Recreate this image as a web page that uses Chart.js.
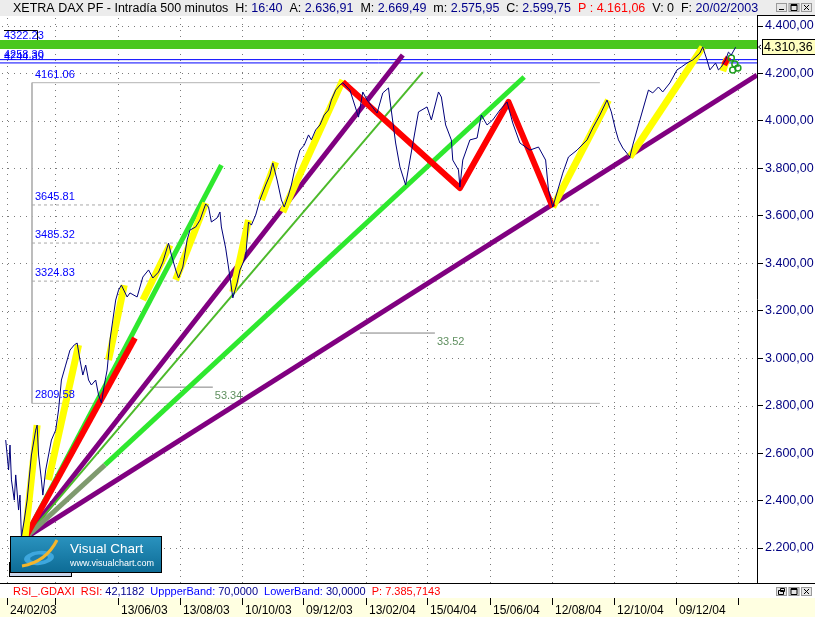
<!DOCTYPE html>
<html>
<head>
<meta charset="utf-8">
<script src="https://cdn.jsdelivr.net/npm/chart.js@4.4.0/dist/chart.umd.min.js"></script>
<style>
  html, body { margin: 0; padding: 0; background: #fff; }
  #wrap { width: 815px; height: 617px; position: relative; overflow: hidden; }
</style>
</head>
<body>
<div id="wrap"><canvas id="dax" width="815" height="617"></canvas></div>
<script>
// XETRA DAX, 500 minute bars. x = bar number, y = close

const barIdx = [4,5,6,7,8,10,11,13,14,15,17,19,21,22,25,26,27,29,30,32,34,36,39,41,43,46,49,52,54,56,
  58,60,62,64,67,69,71,73,75,77,79,81,83,85,89,91,96,100,104,107,111,114,118,120,123,125,128,131,133,137,
  140,144,146,148,152,154,155,158,161,163,166,168,172,174,176,179,182,186,189,191,194,197,199,202,204,207,210,213,216,218,
  221,224,227,230,232,235,238,240,245,251,254,257,264,268,272,273,277,280,284,287,293,299,302,307,309,312,316,317,321,322,
  324,329,334,337,341,345,350,355,359,364,371,377,382,384,387,394,398,404,411,415,420,425,428,431,433,436,441,443,446,449,
  452,454,457,461,464,469,474,477,481,485,490,492,495,497,501,503,505,508,510,512,515];
const closeVal = [2655,2592,2529,2634,2487,2402,2508,2360,2423,2246,2318,2402,2529,2592,2697,2718,2592,2487,2423,2529,
  2592,2655,2697,2782,2908,2971,3034,3056,3064,2992,2929,2971,2908,2887,2908,2845,2811,2887,2950,3077,
  3161,3245,3287,3308,3258,3275,3258,3342,3372,3338,3363,3405,3485,3435,3372,3338,3384,3498,3540,3553,
  3582,3650,3637,3574,3591,3616,3553,3464,3342,3254,3317,3372,3426,3574,3561,3603,3667,3730,3772,3823,
  3751,3667,3637,3688,3730,3814,3877,3898,3941,3920,3962,3983,4025,4046,4088,4130,4151,4161,4130,4016,
  4122,4088,4033,4118,4139,4088,3907,3806,3730,3835,4038,4059,4004,4122,4101,3983,3920,3835,3793,3721,
  3835,3920,3928,4025,3983,4004,4046,4080,3991,3907,3877,3890,3835,3709,3637,3780,3848,3877,3920,3970,
  4025,4088,4038,3962,3920,3886,3848,3898,3962,4025,4088,4130,4118,4143,4122,4160,4215,4227,4244,4257,
  4286,4311,4257,4215,4244,4215,4227,4257,4290,4278,4310.36];

const dateTicks = [4.9, 38.5, 82.6, 126, 169.4, 212.1, 256.2, 298.9, 343, 386.4, 429.8, 473.2, 516.6];
const dateLabels = ['24/02/03', '', '13/06/03', '13/08/03', '10/10/03', '09/12/03', '13/02/04',
  '15/04/04', '15/06/04', '12/08/04', '12/10/04', '09/12/04', ''];
const priceTicks = [2200, 2400, 2600, 2800, 3000, 3200, 3400, 3600, 3800, 4000, 4200, 4400];

// drawn trend lines, [bar, price]
const yellowLegs = [
  [[17.5, 2242], [26, 2718]], [[34, 2487], [55, 3056]], [[76, 2992], [87, 3308]],
  [[100, 3245], [119, 3477]], [[123, 3330], [144, 3654]], [[163, 3279], [174, 3582]],
  [[183, 3667], [193, 3827]], [[198, 3616], [240, 4172]], [[387, 3637], [426, 4088]],
  [[441, 3848], [492, 4311]], [[506, 4210], [509, 4262]]];
const redLegs = [
  [[17.5, 2242], [94.5, 3085]],
  [[240, 4164], [322, 3717], [356, 4080], [387, 3637]],
  [[507, 4236], [510, 4269]]];
const greenFan = [[[17.5, 2242], [155, 3814]], [[73.5, 2550], [367, 4185]]];
const greyFan = [[[17.5, 2242], [73.5, 2550]]];
const thinGreenFan = [[[17.5, 2242], [296, 4206]]];
const purpleFan = [[[17.5, 2242], [282, 4278]], [[17.5, 2242], [530, 4193]]];
const greenMarks = [[512, 4265], [514.5, 4240], [513, 4215], [516.6, 4223]];

// horizontal levels
const bandLevel = 4322.23;
const blueLevels = [4258.30, 4244.39];
const fibLevels = [4161.06, 3645.81, 3485.32, 3324.83, 2809.58];
const fibFrom = 22.4, fibTo = 420;
const angleMarks = [[105, 149, 2878, '53.34'], [252, 304.5, 3106, '33.52']];

const titleParts = [
  ['XETRA DAX PF - Intradía 500 minutos  H: ', '#000'], ['16:40', '#00008b'],
  ['  A: ', '#000'], ['2.636,91', '#00008b'], ['  M: ', '#000'], ['2.669,49', '#00008b'],
  ['  m: ', '#000'], ['2.575,95', '#00008b'], ['  C: ', '#000'], ['2.599,75', '#00008b'],
  ['  ', '#000'], ['P : 4.161,06', '#ff0000'], ['  V: 0  F: ', '#000'], ['20/02/2003', '#00008b']];
const rsiParts = [
  ['RSI_.GDAXI  RSI: ', '#ff0000'], ['42,1182 ', '#00008b'], [' UppperBand: ', '#0000ff'],
  ['70,0000 ', '#00008b'], [' LowerBand: ', '#0000ff'], ['30,0000 ', '#00008b'],
  [' P: 7.385,7143', '#ff0000']];

const FONT = '"Liberation Sans", Arial, sans-serif';
Chart.defaults.font.family = FONT;

function pts(arr) { return arr.map(p => ({ x: p[0], y: p[1] })); }
function leg(arr, color, width, extra) {
  return Object.assign({ data: pts(arr), borderColor: color, borderWidth: width, pointRadius: 0,
    fill: false, tension: 0 }, extra || {});
}
function fmtPrice(v) {
  const s = Math.round(v).toString().replace(/\B(?=(\d{3})+(?!\d))/g, '.');
  return s + ',00';
}

const datasets = [];
datasets.push(leg(barIdx.map((b, i) => [b, closeVal[i]]), '#00007a', 1));
datasets.push({ type: 'scatter', data: pts(greenMarks), pointRadius: 3, pointBorderColor: '#1e9e1e',
  pointBackgroundColor: 'rgba(0,0,0,0)', pointBorderWidth: 1.5, showLine: false });
redLegs.slice(1).forEach(l => datasets.push(leg(l, '#ff0000', 6, { borderJoinStyle: 'round' })));
yellowLegs.forEach(l => datasets.push(leg(l, '#ffff00', 7)));
datasets.push(leg(redLegs[0], '#ff0000', 6));
greenFan.forEach(l => datasets.push(leg(l, '#2ee82e', 5)));
greyFan.forEach(l => datasets.push(leg(l, '#7f9a6e', 5)));
thinGreenFan.forEach(l => datasets.push(leg(l, '#4cba2a', 2)));
purpleFan.forEach(l => datasets.push(leg(l, '#800080', 5)));
blueLevels.forEach(v => datasets.push(leg([[0, v], [530, v]], '#0000ff', 1)));
datasets.push(leg([[0, bandLevel], [530, bandLevel]], '#4ac71e', 9));
angleMarks.forEach(a => datasets.push(leg([[a[0], a[2]], [a[1], a[2]]], '#808080', 1)));
fibLevels.forEach((v, i) => {
  const edge = i === 0 || i === fibLevels.length - 1;
  datasets.push(leg([[fibFrom, v], [fibTo, v]], edge ? '#b4b4b4' : '#a8a8a8', 1,
    edge ? {} : { borderDash: [3, 3] }));
});
datasets.push(leg([[fibFrom, fibLevels[0]], [fibFrom, fibLevels[4]]], '#b4b4b4', 1));

function winButtons(c, x, y, first) {
  c.lineWidth = 1;
  for (let k = 0; k < 3; k++) {
    const bx = x + k * 12.5;
    c.fillStyle = '#e6e6e6'; c.fillRect(bx, y, 11, 9);
    c.strokeStyle = '#9a9a9a'; c.strokeRect(bx + 0.5, y + 0.5, 10, 8);
    c.strokeStyle = '#000'; c.beginPath();
    if (k === 0 && first === 'min') { c.moveTo(bx + 3, y + 6.5); c.lineTo(bx + 8, y + 6.5); }
    else if (k === 0) { c.rect(bx + 2.5, y + 3.5, 5, 4); c.rect(bx + 4.5, y + 1.5, 4, 3); }
    else if (k === 1) { c.rect(bx + 2.5, y + 1.5, 6, 6); c.moveTo(bx + 2.5, y + 2.5); c.lineTo(bx + 8.5, y + 2.5); }
    else { c.moveTo(bx + 3, y + 2); c.lineTo(bx + 8, y + 7); c.moveTo(bx + 8, y + 2); c.lineTo(bx + 3, y + 7); }
    c.stroke();
  }
}

const chrome = {
  id: 'chrome',
  beforeDraw(chart) {
    const c = chart.ctx;
    c.save();
    c.fillStyle = '#ffffff'; c.fillRect(0, 0, 815, 617);
    c.fillStyle = '#ececec'; c.fillRect(0, 0, 815, 16);
    c.fillStyle = '#ffffe1'; c.fillRect(0, 598, 815, 19);
    c.restore();
  },
  beforeDatasetsDraw(chart) {
    // dotted grid
    const c = chart.ctx, xs = chart.scales.x, ys = chart.scales.y, a = chart.chartArea;
    c.save();
    c.fillStyle = '#7a7a7a';
    priceTicks.forEach(v => {
      const py = Math.round(ys.getPixelForValue(v));
      for (let px = a.left + 2; px < a.right; px += 6) c.fillRect(px, py, 1, 1);
    });
    dateTicks.forEach(t => {
      const px = Math.round(xs.getPixelForValue(t));
      for (let py = a.top + 1; py < a.bottom; py += 6) c.fillRect(px, py, 1, 1);
    });
    c.restore();
  },
  afterDraw(chart) {
    const c = chart.ctx, xs = chart.scales.x, ys = chart.scales.y;
    const L = chart.chartArea.right, B = chart.chartArea.bottom;
    c.save();
    // frames
    c.strokeStyle = '#000'; c.lineWidth = 1;
    c.beginPath();
    c.moveTo(L + 0.5, 15.5); c.lineTo(L + 0.5, B + 0.5);
    c.moveTo(L, 15.5); c.lineTo(815, 15.5);
    c.moveTo(0, B + 0.5); c.lineTo(815, B + 0.5);
    c.stroke();
    // title
    c.font = '12.5px ' + FONT; c.textBaseline = 'alphabetic';
    let tx = 13;
    titleParts.forEach(p => { c.fillStyle = p[1]; c.fillText(p[0], tx, 12); tx += c.measureText(p[0]).width; });
    winButtons(c, 776, 3, 'min');
    // indicator strip
    c.font = '11px ' + FONT;
    tx = 13;
    rsiParts.forEach(p => { c.fillStyle = p[1]; c.fillText(p[0], tx, 595); tx += c.measureText(p[0]).width; });
    winButtons(c, 776, 587, 'restore');
    // date axis
    c.strokeStyle = '#000'; c.fillStyle = '#000'; c.font = '12px ' + FONT;
    c.beginPath();
    dateTicks.forEach((t, i) => {
      const px = Math.round(xs.getPixelForValue(t));
      c.moveTo(px + 0.5, 598); c.lineTo(px + 0.5, 605);
      if (dateLabels[i]) c.fillText(dateLabels[i], px + 3, 614);
    });
    c.stroke();
    // level labels
    c.font = '11px ' + FONT;
    c.fillStyle = '#0000ff';
    const fx = xs.getPixelForValue(fibFrom) + 3;
    fibLevels.forEach(v => c.fillText(v.toFixed(2), fx, ys.getPixelForValue(v) - 5));
    c.fillText(bandLevel.toFixed(2), 4, ys.getPixelForValue(bandLevel) - 5);
    c.fillText(blueLevels[0].toFixed(2), 4, ys.getPixelForValue(blueLevels[0]) - 2);
    c.fillText(blueLevels[1].toFixed(2), 4, ys.getPixelForValue(blueLevels[1]) - 3);
    c.strokeStyle = '#000';
    c.beginPath(); c.moveTo(4, 30.5); c.lineTo(37.5, 30.5); c.lineTo(37.5, 40); c.stroke();
    c.fillStyle = '#5f8f5f';
    angleMarks.forEach(a => c.fillText(a[3], xs.getPixelForValue(a[1]) + 2, ys.getPixelForValue(a[2]) + 12));
    // last price box
    const last = closeVal[closeVal.length - 1];
    const py = Math.round(ys.getPixelForValue(last));
    c.fillStyle = '#ffffc0'; c.fillRect(762, py - 8, 53, 16);
    c.strokeStyle = '#000'; c.strokeRect(762.5, py - 7.5, 53, 15);
    c.fillStyle = '#000'; c.font = '12.5px ' + FONT; c.textBaseline = 'middle';
    c.fillText('4.310,36', 764, py + 0.5);
    c.beginPath(); c.moveTo(761, py - 2); c.lineTo(758.5, py); c.lineTo(761, py + 2); c.stroke();
    // logo
    c.textBaseline = 'alphabetic';
    c.fillStyle = '#cbd6ec'; c.fillRect(9, 562, 63, 15);
    c.strokeRect(9.5, 562.5, 62, 14);
    const g = c.createLinearGradient(0, 536, 0, 573);
    g.addColorStop(0, '#2a93bf'); g.addColorStop(1, '#0d6b95');
    c.fillStyle = g; c.fillRect(10, 536, 152, 37);
    c.strokeRect(10.5, 536.5, 151, 36);
    c.beginPath(); c.ellipse(39, 558, 15, 7, -0.1, 0, Math.PI * 2);
    c.fillStyle = '#3ea7dd'; c.fill();
    c.beginPath(); c.ellipse(39, 558, 9, 3.5, -0.1, 0, Math.PI * 2);
    c.fillStyle = '#1b7fb0'; c.fill();
    c.beginPath(); c.moveTo(22, 566); c.quadraticCurveTo(46, 562, 57, 540);
    c.strokeStyle = '#f3b52c'; c.lineWidth = 3; c.stroke();
    c.fillStyle = '#ffffff';
    c.font = '13.5px ' + FONT; c.fillText('Visual Chart', 70, 553);
    c.font = '9px ' + FONT; c.fillText('www.visualchart.com', 70, 566);
    c.restore();
  }
};

new Chart(document.getElementById('dax'), {
  type: 'line',
  data: { datasets: datasets },
  options: {
    responsive: false,
    animation: false,
    devicePixelRatio: 1,
    layout: { autoPadding: false, padding: { top: 17, left: 0, right: 0, bottom: 0 } },
    plugins: { legend: { display: false }, tooltip: { enabled: false }, title: { display: false } },
    scales: {
      x: {
        type: 'linear', min: 0, max: 530,
        afterFit: s => { s.height = 34; },
        afterBuildTicks: s => { s.ticks = dateTicks.map(v => ({ value: v })); },
        grid: { display: false },
        border: { display: false },
        ticks: { display: false }
      },
      y: {
        position: 'right', min: 2052.5, max: 4438,
        afterFit: s => { s.width = 58; },
        afterBuildTicks: s => { s.ticks = priceTicks.map(v => ({ value: v })); },
        grid: { drawOnChartArea: false, drawTicks: true, tickLength: 6, tickColor: '#000' },
        border: { display: false },
        ticks: { padding: 2, color: '#000080', font: { size: 12.5 }, callback: v => fmtPrice(v) }
      }
    }
  },
  plugins: [chrome]
});
</script>
</body>
</html>
